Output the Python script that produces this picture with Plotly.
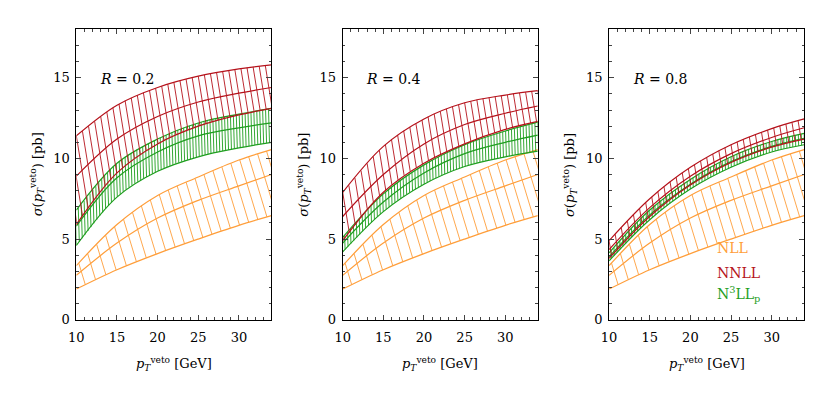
import numpy as np
import plotly.graph_objects as go

# ---------------- data ----------------
X = [10, 15, 20, 25, 30, 34]
R_LABELS = ["0.2", "0.4", "0.8"]

# NLL band (identical in the three panels)
nll_lo = [1.9, 3.1, 4.1, 5.0, 5.85, 6.45]
nll_c = [2.75, 4.75, 6.3, 7.4, 8.3, 9.0]
nll_hi = [3.35, 5.9, 7.7, 8.85, 9.9, 10.55]

# R = 0.2
nnll_lo_02 = [5.9, 9.1, 10.9, 12.0, 12.7, 13.1]
nnll_c_02 = [8.9, 11.2, 12.6, 13.5, 14.05, 14.4]
nnll_hi_02 = [11.4, 13.3, 14.4, 15.1, 15.55, 15.8]
n3ll_lo_02 = [4.6, 7.6, 9.2, 10.1, 10.65, 11.0]
n3ll_c_02 = [5.8, 8.8, 10.4, 11.4, 11.9, 12.2]
n3ll_hi_02 = [6.8, 9.7, 11.2, 12.2, 12.75, 13.1]

# R = 0.4
nnll_lo_04 = [4.9, 7.9, 9.7, 10.9, 11.8, 12.3]
nnll_c_04 = [6.4, 9.0, 10.9, 12.1, 12.8, 13.25]
nnll_hi_04 = [7.9, 10.75, 12.45, 13.45, 13.93, 14.2]
n3ll_lo_04 = [4.2, 6.7, 8.4, 9.5, 10.1, 10.45]
n3ll_c_04 = [4.75, 7.3, 9.1, 10.3, 11.0, 11.45]
n3ll_hi_04 = [5.1, 7.8, 9.6, 10.85, 11.7, 12.25]

# R = 0.8
nnll_lo_08 = [3.8, 6.4, 8.35, 9.75, 10.7, 11.2]
nnll_c_08 = [4.35, 6.95, 8.9, 10.3, 11.3, 11.9]
nnll_hi_08 = [4.9, 7.5, 9.45, 10.85, 11.85, 12.45]
n3ll_lo_08 = [3.65, 6.2, 8.1, 9.45, 10.4, 10.85]
n3ll_c_08 = [3.9, 6.5, 8.4, 9.8, 10.75, 11.25]
n3ll_hi_08 = [4.15, 6.8, 8.7, 10.1, 11.05, 11.55]

X_TICKS = [10, 15, 20, 25, 30]
Y_TICKS = [0, 5, 10, 15]

# ---------------- style ----------------
W, H = 822, 413
ORANGE = "#FF9E3A"
RED = "#B5121B"
GREEN = "#1E9E1E"
FONT = "DejaVu Serif"
XR = [10, 34]
YR = [0, 18]
PANELS_PX = [(69, 266), (338, 535), (607, 804)]
TOP_PX, BOT_PX = 30, 326
# hatch: spacing in x units, slant (screen px of x per px of y)
HATCH = {"nll": (1.1, 0.30), "nnll": (0.75, 0.16), "n3ll": (0.36, 0.03)}


def smooth(xs, ys, xq):
    """Cubic Hermite (Catmull-Rom) evaluation through the read points."""
    xs = np.asarray(xs, float)
    ys = np.asarray(ys, float)
    n = len(xs)
    m = np.empty(n)
    m[0] = (ys[1] - ys[0]) / (xs[1] - xs[0])
    m[-1] = (ys[-1] - ys[-2]) / (xs[-1] - xs[-2])
    for i in range(1, n - 1):
        m[i] = (ys[i + 1] - ys[i - 1]) / (xs[i + 1] - xs[i - 1])
    xq = np.atleast_1d(np.asarray(xq, float))
    out = np.empty_like(xq)
    for j, x in enumerate(xq):
        if x <= xs[0]:
            out[j] = ys[0] + m[0] * (x - xs[0])
        elif x >= xs[-1]:
            out[j] = ys[-1] + m[-1] * (x - xs[-1])
        else:
            i = np.searchsorted(xs, x) - 1
            h = xs[i + 1] - xs[i]
            t = (x - xs[i]) / h
            h00 = 2 * t**3 - 3 * t**2 + 1
            h10 = t**3 - 2 * t**2 + t
            h01 = -2 * t**3 + 3 * t**2
            h11 = t**3 - t**2
            out[j] = h00 * ys[i] + h10 * h * m[i] + h01 * ys[i + 1] + h11 * h * m[i + 1]
    return out


px_x = (PANELS_PX[0][1] - PANELS_PX[0][0]) / (XR[1] - XR[0])
px_y = (BOT_PX - TOP_PX) / (YR[1] - YR[0])


def hatch_xy(lo, hi, spacing, slant):
    xs, ys = [], []
    x0 = XR[0] - 3.0
    while x0 <= XR[1] + 0.01:
        top = smooth(X, hi, x0)[0]
        x1 = x0
        for _ in range(3):
            bot = smooth(X, lo, x1)[0]
            x1 = x0 + slant * (top - bot) * px_y / px_x
        bot = smooth(X, lo, x1)[0]
        xs += [x0, x1, None]
        ys += [top, bot, None]
        x0 += spacing
    return xs, ys


bands = [
    [("nll", nll_lo, nll_c, nll_hi, ORANGE),
     ("n3ll", n3ll_lo_02, n3ll_c_02, n3ll_hi_02, GREEN),
     ("nnll", nnll_lo_02, nnll_c_02, nnll_hi_02, RED)],
    [("nll", nll_lo, nll_c, nll_hi, ORANGE),
     ("n3ll", n3ll_lo_04, n3ll_c_04, n3ll_hi_04, GREEN),
     ("nnll", nnll_lo_04, nnll_c_04, nnll_hi_04, RED)],
    [("nll", nll_lo, nll_c, nll_hi, ORANGE),
     ("n3ll", n3ll_lo_08, n3ll_c_08, n3ll_hi_08, GREEN),
     ("nnll", nnll_lo_08, nnll_c_08, nnll_hi_08, RED)],
]

fig = go.Figure()
for p, panel in enumerate(bands):
    xa = "x" if p == 0 else f"x{p + 1}"
    ya = "y" if p == 0 else f"y{p + 1}"
    for key, lo, c, hi, col in panel:
        sp, sl = HATCH[key]
        hx, hy = hatch_xy(lo, hi, sp, sl)
        fig.add_trace(go.Scatter(x=hx, y=hy, mode="lines", xaxis=xa, yaxis=ya,
                                 line=dict(color=col, width=0.9),
                                 showlegend=False, hoverinfo="skip"))
        for arr in (lo, c, hi):
            fig.add_trace(go.Scatter(x=X, y=arr, mode="lines", xaxis=xa, yaxis=ya,
                                     line=dict(color=col, width=1.2, shape="spline"),
                                     showlegend=False))

layout = dict(width=W, height=H, margin=dict(l=0, r=0, t=0, b=0),
              paper_bgcolor="white", plot_bgcolor="white",
              font=dict(family=FONT, size=13, color="black"), showlegend=False)
ydom = [(H - BOT_PX) / H, (H - TOP_PX) / H]
annotations = []
for p, (l, r) in enumerate(PANELS_PX):
    sfx = "" if p == 0 else str(p + 1)
    layout[f"xaxis{sfx}"] = dict(
        domain=[l / W, r / W], range=XR, anchor=f"y{sfx}",
        tickmode="array", tickvals=X_TICKS, ticks="inside", ticklen=5,
        ticklabelstandoff=6,
        showline=True, linecolor="black", linewidth=1, mirror="ticks",
        showgrid=False, zeroline=False,
        minor=dict(ticks="inside", ticklen=2.5, dtick=1, tick0=0, showgrid=False),
        tickfont=dict(family=FONT, size=13))
    layout[f"yaxis{sfx}"] = dict(
        domain=ydom, range=YR, anchor=f"x{sfx}",
        tickmode="array", tickvals=Y_TICKS, ticks="inside", ticklen=5,
        ticklabelstandoff=3,
        showline=True, linecolor="black", linewidth=1, mirror="ticks",
        showgrid=False, zeroline=False,
        minor=dict(ticks="inside", ticklen=2.5, dtick=1, tick0=0, showgrid=False),
        tickfont=dict(family=FONT, size=13))
    annotations.append(dict(
        x=(l - 40) / W, y=(H - (TOP_PX + BOT_PX) / 2) / H, xref="paper", yref="paper",
        text="<i>σ</i>(<i>p</i><sub><i>T</i></sub><sup>veto</sup>) [pb]",
        textangle=-90, showarrow=False, xanchor="center", yanchor="middle",
        font=dict(family=FONT, size=13)))
    annotations.append(dict(
        x=(l + r) / 2 / W, y=(H - 371) / H, xref="paper", yref="paper",
        text="<i>p</i><sub><i>T</i></sub><sup>veto</sup> [GeV]",
        showarrow=False, xanchor="center", yanchor="middle",
        font=dict(family=FONT, size=13)))
    annotations.append(dict(
        x=(l + 22) / W, y=(H - 81) / H, xref="paper", yref="paper",
        text=f"<i>R</i> = {R_LABELS[p]}", showarrow=False,
        xanchor="left", yanchor="middle", font=dict(family=FONT, size=14)))

LEG = [("NLL", ORANGE, 253), ("NNLL", RED, 278), ("N<sup>3</sup>LL<sub>p</sub>", GREEN, 300)]
for txt, col, ypx in LEG:
    annotations.append(dict(x=714 / W, y=(H - ypx) / H, xref="paper", yref="paper",
                            text=txt, showarrow=False, xanchor="left", yanchor="middle",
                            font=dict(family=FONT, size=14, color=col)))
layout["annotations"] = annotations
fig.update_layout(**layout)
fig.write_html("out.html", config={"displayModeBar": False},
               post_script="document.body.style.margin='0';document.body.style.padding='0';")
